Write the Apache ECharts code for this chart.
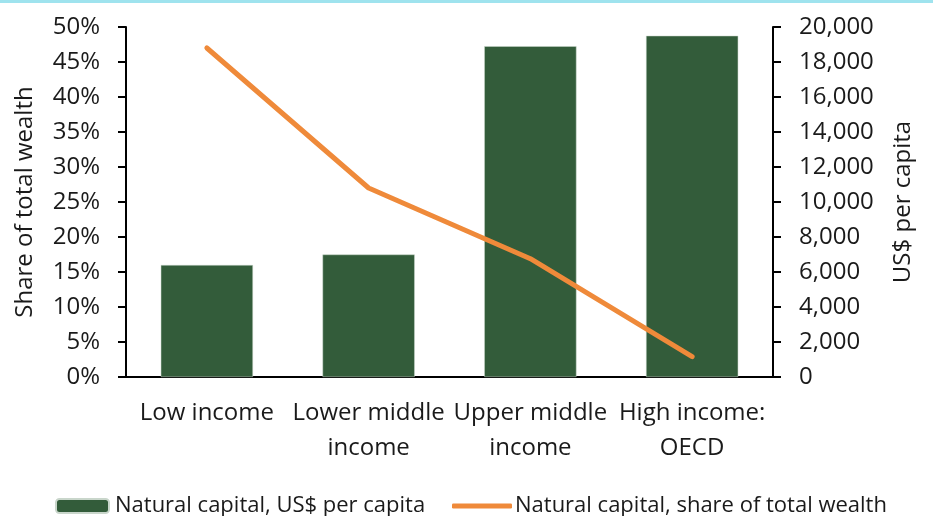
<!DOCTYPE html>
<html>
<head>
<meta charset="utf-8">
<script src="https://cdn.jsdelivr.net/npm/echarts@6/dist/echarts.min.js"></script>
<style>
  html, body { margin: 0; padding: 0; background: #fff; }
  #main { width: 933px; height: 516px; }
</style>
</head>
<body>
<div id="main"></div>
<script>
  // data
  const categories = ['Low income', 'Lower middle\nincome', 'Upper middle\nincome', 'High income:\nOECD']
  const perCapita = [6400, 7000, 18900, 19500]
  const shareOfWealth = [47.0, 27.0, 16.9, 2.9]

  const font = '"Open Sans", "Noto Sans", sans-serif'
  const axisColor = '#000'
  const textColor = '#1a1a1a'
  const orange = '#ef8a3a'
  const green = '#335c3a'

  const myChart = echarts.init(document.getElementById('main'))
  const option = {
    animation: false,
    textStyle: { fontFamily: font },
    graphic: [{
      type: 'rect',
      shape: { x: 0, y: 0, width: 933, height: 3 },
      style: { fill: '#9fe3ee' }
    }],
    grid: { left: 126, right: 160, top: 27, bottom: 139 },
    legend: [{
      left: 50, top: 490,
      itemWidth: 53, itemHeight: 14, itemGap: 6,
      textStyle: { fontSize: 22, color: textColor, fontFamily: font, padding: [0, 0, 0, 1] },
      data: ['Natural capital, US$ per capita']
    }, {
      left: 447, top: 490,
      itemWidth: 60, itemHeight: 5,
      textStyle: { fontSize: 22, color: textColor, fontFamily: font, padding: [0, 0, 0, -2] },
      data: [{ name: 'Natural capital, share of total wealth', icon: 'roundRect', itemStyle: { color: orange } }]
    }],
    xAxis: {
      type: 'category',
      data: categories,
      axisLine: { lineStyle: { color: axisColor, width: 2 } },
      axisTick: { show: false },
      axisLabel: {
        color: textColor, fontSize: 24, lineHeight: 35, margin: 19,
        interval: 0, fontFamily: font
      }
    },
    yAxis: [{
      type: 'value',
      min: 0, max: 50, interval: 5,
      name: 'Share of total wealth',
      nameLocation: 'middle', nameGap: 89, nameRotate: 90,
      nameTextStyle: { fontSize: 24, color: textColor, fontFamily: font },
      axisLine: { show: true, lineStyle: { color: axisColor, width: 2 } },
      axisTick: { show: true, length: 8, lineStyle: { color: axisColor, width: 2 } },
      splitLine: { show: false },
      axisLabel: { formatter: '{value}%', color: textColor, fontSize: 24, margin: 26, fontFamily: font }
    }, {
      type: 'value',
      min: 0, max: 20000, interval: 2000,
      position: 'right',
      name: 'US$ per capita',
      nameLocation: 'middle', nameGap: 118, nameRotate: 90,
      nameTextStyle: { fontSize: 24, color: textColor, fontFamily: font },
      axisLine: { show: true, lineStyle: { color: axisColor, width: 2 } },
      axisTick: { show: true, length: 8, lineStyle: { color: axisColor, width: 2 } },
      splitLine: { show: false },
      axisLabel: {
        color: textColor, fontSize: 24, margin: 26, fontFamily: font,
        formatter: v => v.toLocaleString('en-US')
      }
    }],
    series: [{
      name: 'Natural capital, US$ per capita',
      type: 'bar',
      yAxisIndex: 1,
      data: perCapita,
      barWidth: '57%',
      itemStyle: { color: green, borderColor: '#c9d6cb', borderWidth: 0.5 }
    }, {
      name: 'Natural capital, share of total wealth',
      type: 'line',
      yAxisIndex: 0,
      data: shareOfWealth,
      symbol: 'none',
      lineStyle: { color: orange, width: 5, cap: 'round' },
      itemStyle: { color: orange }
    }]
  }
  myChart.setOption(option)
</script>
</body>
</html>
